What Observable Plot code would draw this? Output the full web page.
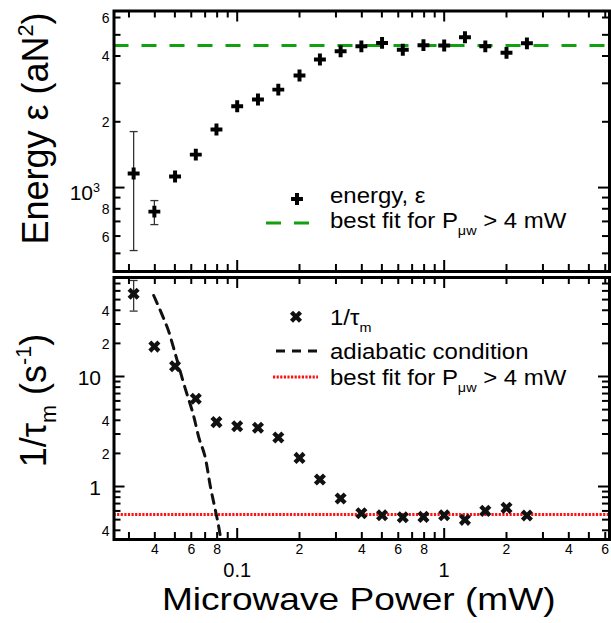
<!DOCTYPE html>
<html><head><meta charset="utf-8">
<script src="https://cdn.jsdelivr.net/npm/d3@7"></script>
<script src="https://cdn.jsdelivr.net/npm/@observablehq/plot@0.6"></script>
<style>
body{margin:0;background:#fff;}
#chart{width:611px;height:623px;position:relative;overflow:hidden;background:#fff;}
#chart svg{display:block;}
</style></head><body><div id="chart"></div>
<script>
// ---------- data ----------
const power = [0.0316,0.0398,0.0501,0.0631,0.0794,0.1,0.126,0.158,0.2,0.251,0.316,0.398,0.501,0.631,0.794,1,1.26,1.58,2.0,2.51];
const energy = [1160,776,1123,1415,1843,2355,2528,2807,3258,3855,4207,4429,4591,4271,4484,4470,4877,4429,4135,4572];
const energyErrP = [0.0316,0.0398];
const energyErrLo = [515,677];
const energyErrHi = [1804,872];
const energyFit = 4470;

const rate = [56.5,18.7,12.4,6.27,3.85,3.53,3.42,2.79,1.82,1.16,0.778,0.572,0.548,0.526,0.530,0.548,0.498,0.601,0.640,0.545];
const rateErrP = [0.0316];
const rateErrLo = [39.3];
const rateErrHi = [74.6];
const rateFit = 0.556;

const adiabaticP = [0.0395,0.0435,0.0468,0.0494,0.0552,0.0618,0.0652,0.0703,0.0743,0.0785,0.0815,0.0838];
const adiabaticRate = [54.5,35.9,25.3,17.9,8.6,4.27,2.81,1.79,0.99,0.605,0.427,0.31];

// ticks and tick labels
const xMajorTicks = [0.1,1];
const xMinorTicks = [0.03,0.04,0.05,0.06,0.07,0.08,0.09,0.2,0.3,0.4,0.5,0.6,0.7,0.8,0.9,2,3,4,5,6];
const xMinorLabelVals = [0.04,0.06,0.08,0.2,0.4,0.6,0.8,2,4,6];
const xMinorLabelText = ["4","6","8","2","4","6","8","2","4","6"];
const xMajorLabelVals = [0.1,1];
const xMajorLabelText = ["0.1","1"];

const eMajorTicks = [1000];
const eMinorTicks = [500,600,700,800,900,2000,3000,4000,5000,6000];
const eMinorLabelVals = [600,800,2000,4000,6000];
const eMinorLabelText = ["6","8","2","4","6"];
const eMajorLabelVals = [1000];
const eMajorLabelText = ["10^{3}"];

const rMajorTicks = [1,10];
const rMinorTicks = [0.4,0.5,0.6,0.7,0.8,0.9,2,3,4,5,6,7,8,9,20,30,40,50,60,70];
const rMinorLabelVals = [0.4,2,4,20,40];
const rMinorLabelText = ["4","2","4","2","4"];
const rMajorLabelVals = [1,10];
const rMajorLabelText = ["1","10"];

const xTitle = "Microwave Power (mW)";
const yTitleTop = "Energy ε (aN^{2})";
const yTitleBottom = "1/τ_{m} (s^{-1})";
const legendTop = ["energy, ε", "best fit for P_{μw} > 4 mW"];
const legendBottom = ["1/τ_{m}", "adiabatic condition", "best fit for P_{μw} > 4 mW"];

// ---------- style ----------
const FONT = "'Liberation Sans', Arial, Helvetica, sans-serif";
const W = 611;
const mL = 113.5, mR = 2;
const xDomain = [0.0254, 6.29];
const GREEN = "#10a010", RED = "#ff1010";

const zip = (v, t) => v.map((d, i) => ({v: d, t: t[i]}));

function frameTicks(fh, fw, yMajor, yMinor) {
  const MJ = 11, MN = 7, s = {stroke: "black", strokeWidth: 2};
  return [
    Plot.ruleX(xMajorTicks, {x: d => d, insetTop: fh - MJ, ...s}),
    Plot.ruleX(xMajorTicks, {x: d => d, insetBottom: fh - MJ, ...s}),
    Plot.ruleX(xMinorTicks, {x: d => d, insetTop: fh - MN, ...s}),
    Plot.ruleX(xMinorTicks, {x: d => d, insetBottom: fh - MN, ...s}),
    Plot.ruleY(yMajor, {y: d => d, insetRight: fw - MJ, ...s}),
    Plot.ruleY(yMajor, {y: d => d, insetLeft: fw - MJ, ...s}),
    Plot.ruleY(yMinor, {y: d => d, insetRight: fw - MN, ...s}),
    Plot.ruleY(yMinor, {y: d => d, insetLeft: fw - MN, ...s}),
    Plot.frame({stroke: "black", strokeWidth: 3})
  ];
}

const capSymbol = {draw(ctx) { ctx.moveTo(-4, 0); ctx.lineTo(4, 0); }};

// ---------- top panel ----------
const topH = 274, topMT = 10.5, topMB = 3;
const eData = power.map((p, i) => ({p, e: energy[i]}));
const eErr = energyErrP.map((p, i) => ({p, lo: energyErrLo[i], hi: energyErrHi[i]}));

const topPlot = Plot.plot({
  width: W, height: topH,
  marginLeft: mL, marginRight: mR, marginTop: topMT, marginBottom: topMB,
  x: {type: "log", domain: xDomain, axis: null},
  y: {type: "log", domain: [413, 6427], axis: null},
  style: {fontFamily: FONT, background: "white", overflow: "visible"},
  marks: [
    Plot.ruleY([energyFit], {y: d => d, stroke: GREEN, strokeWidth: 3, strokeDasharray: "15,13"}),
    Plot.ruleX(eErr, {x: "p", y1: "lo", y2: "hi", stroke: "#333", strokeWidth: 1.3}),
    Plot.dot(eErr, {x: "p", y: "lo", symbol: capSymbol, stroke: "#333", strokeWidth: 1.3}),
    Plot.dot(eErr, {x: "p", y: "hi", symbol: capSymbol, stroke: "#333", strokeWidth: 1.3}),
    Plot.dot(eData, {x: "p", y: "e", symbol: "cross", r: 5, fill: "black", stroke: "none"}),
    ...frameTicks(271 - topMT, W - mR - mL, eMajorTicks, eMinorTicks),
    Plot.text(zip(eMinorLabelVals, eMinorLabelText), {y: "v", text: "t", frameAnchor: "left", textAnchor: "end", dx: -4.5, dy: 1, fontSize: 14}),
    Plot.text(zip(eMajorLabelVals, eMajorLabelText), {y: "v", text: "t", frameAnchor: "left", textAnchor: "end", dx: -14, dy: 6, fontSize: 21}),
    Plot.text([yTitleTop], {text: d => d, frameAnchor: "left", textAnchor: "middle", rotate: -90, dx: -66.5, dy: -12.7, fontSize: 36, lineAnchor: "bottom"})
  ]
});

// ---------- bottom panel ----------
const botH = 349, botMT = 3, botMB = 84;
const rData = power.map((p, i) => ({p, r: rate[i]}));
const rErr = rateErrP.map((p, i) => ({p, lo: rateErrLo[i], hi: rateErrHi[i]}));
const adData = adiabaticP.map((p, i) => ({p, r: adiabaticRate[i]}));

const botPlot = Plot.plot({
  width: W, height: botH,
  marginLeft: mL, marginRight: mR, marginTop: botMT, marginBottom: botMB,
  x: {type: "log", domain: xDomain, axis: null},
  y: {type: "log", domain: [0.33, 79.4], axis: null},
  style: {fontFamily: FONT, background: "white", overflow: "visible"},
  marks: [
    Plot.ruleY([rateFit], {y: d => d, stroke: RED, strokeWidth: 3, strokeDasharray: "2.2,1.4"}),
    Plot.line(adData, {x: "p", y: "r", curve: "monotone-x", stroke: "#111", strokeWidth: 3, strokeDasharray: "9,7", clip: true}),
    Plot.ruleX(rErr, {x: "p", y1: "lo", y2: "hi", stroke: "#333", strokeWidth: 1.3}),
    Plot.dot(rErr, {x: "p", y: "lo", symbol: capSymbol, stroke: "#333", strokeWidth: 1.3}),
    Plot.dot(rErr, {x: "p", y: "hi", symbol: capSymbol, stroke: "#333", strokeWidth: 1.3}),
    Plot.dot(rData, {x: "p", y: "r", symbol: "cross", r: 5.4, rotate: 45, fill: "#111", stroke: "none"}),
    ...frameTicks(539 - 274 - botMT, W - mR - mL, rMajorTicks, rMinorTicks),
    Plot.text(zip(rMinorLabelVals, rMinorLabelText), {y: "v", text: "t", frameAnchor: "left", textAnchor: "end", dx: -4.5, dy: 1, fontSize: 14}),
    Plot.text(zip(rMajorLabelVals, rMajorLabelText), {y: "v", text: "t", frameAnchor: "left", textAnchor: "end", dx: -13, dy: 1.5, fontSize: 21}),
    Plot.text(zip(xMinorLabelVals, xMinorLabelText), {x: "v", text: "t", frameAnchor: "bottom", dy: 14.5, fontSize: 14}),
    Plot.text(zip(xMajorLabelVals, xMajorLabelText), {x: "v", text: "t", frameAnchor: "bottom", dy: 37.5, fontSize: 20}),
    Plot.text([xTitle], {text: d => d, frameAnchor: "bottom", textAnchor: "middle", dx: -3, dy: 70.5, fontSize: 32, lineAnchor: "bottom"}),
    Plot.text([yTitleBottom], {text: d => d, frameAnchor: "left", textAnchor: "middle", rotate: -90, dx: -68.5, dy: -8, fontSize: 36, lineAnchor: "bottom"})
  ]
});

const chart = document.getElementById("chart");
chart.appendChild(topPlot);
chart.appendChild(botPlot);

// ---------- rich text (sub/superscripts) and horizontal stretch ----------
function richText(sel, str, size) {
  sel.text(null);
  const parts = str.split(/(\^\{[^}]*\}|_\{[^}]*\})/).filter(s => s !== "");
  let shift = 0;
  for (const p of parts) {
    let target = 0, fs = null, t = p;
    if (p.startsWith("^{")) { target = -0.4 * size; fs = 0.6 * size; t = p.slice(2, -1); }
    else if (p.startsWith("_{")) { target = 0.3 * size; fs = 0.6 * size; t = p.slice(2, -1); }
    const ts = sel.append("tspan").text(t);
    if (target - shift !== 0) ts.attr("dy", target - shift);
    if (fs) ts.attr("font-size", fs);
    shift = target;
  }
}
function stretchX(el, s) {
  const x = +el.getAttribute("x") || 0, y = +el.getAttribute("y") || 0;
  const tr = el.getAttribute("transform") || "";
  el.setAttribute("transform", `${tr} translate(${x},${y}) scale(${s},1) translate(${-x},${-y})`);
}
for (const svg of [topPlot, botPlot]) {
  d3.select(svg).selectAll("text").each(function() {
    const s = this.textContent;
    if (s === xTitle) stretchX(this, 1.16);
    if (/[\^_]\{/.test(s)) richText(d3.select(this), s, parseFloat(getComputedStyle(this).fontSize));
  });
}

// ---------- legends ----------
const LF = 22;
function legendText(g, x, y, str) {
  const t = g.append("text").attr("x", x).attr("y", y).attr("font-size", LF)
    .attr("font-family", FONT).attr("fill", "black").attr("text-anchor", "start");
  richText(t, str, LF);
  stretchX(t.node(), 1.09);
}
{
  const g = d3.select(topPlot).append("g").attr("text-anchor", "start");
  g.append("path").attr("transform", "translate(297,199)")
    .attr("d", d3.symbol(d3.symbolCross, Math.PI * 25)()).attr("fill", "black");
  legendText(g, 330, 203, legendTop[0]);
  g.append("line").attr("x1", 266).attr("x2", 309).attr("y1", 223).attr("y2", 223)
    .attr("stroke", GREEN).attr("stroke-width", 3).attr("stroke-dasharray", "15,13");
  legendText(g, 330, 228, legendTop[1]);
}
{
  const o = 274;
  const g = d3.select(botPlot).append("g").attr("text-anchor", "start");
  g.append("path").attr("transform", `translate(296,${316.7 - o}) rotate(45)`)
    .attr("d", d3.symbol(d3.symbolCross, Math.PI * 5.4 * 5.4)()).attr("fill", "#111");
  legendText(g, 330, 325 - o, legendBottom[0]);
  g.append("line").attr("x1", 276).attr("x2", 317).attr("y1", 351 - o).attr("y2", 351 - o)
    .attr("stroke", "#111").attr("stroke-width", 3).attr("stroke-dasharray", "9,7");
  legendText(g, 330, 359 - o, legendBottom[1]);
  g.append("line").attr("x1", 273).attr("x2", 318).attr("y1", 377 - o).attr("y2", 377 - o)
    .attr("stroke", RED).attr("stroke-width", 3).attr("stroke-dasharray", "2.2,1.4");
  legendText(g, 330, 385 - o, legendBottom[2]);
}
</script></body></html>
